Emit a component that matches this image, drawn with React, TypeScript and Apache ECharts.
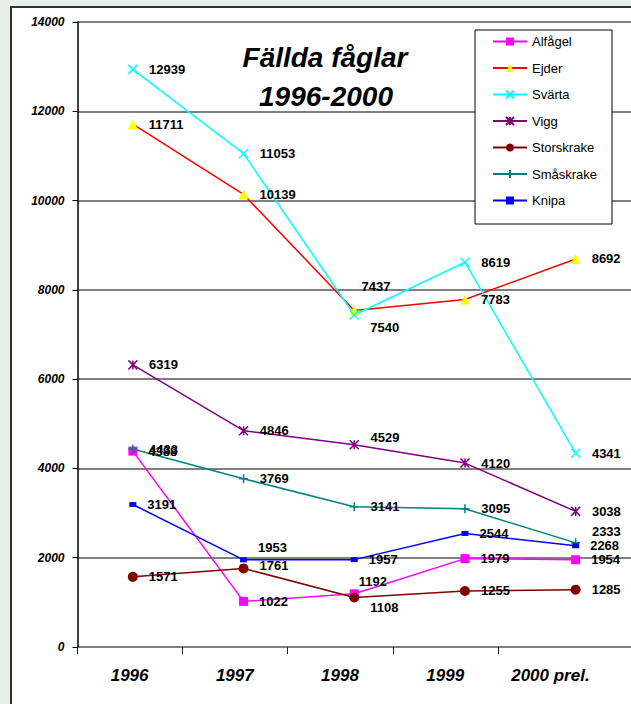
import React, { useEffect, useRef } from "react";
import * as echarts from "echarts";

const years = ["1996", "1997", "1998", "1999", "2000 prel."];
const alfagel = [4388, 1022, 1192, 1979, 1954];
const ejder = [11711, 10139, 7540, 7783, 8692];
const svarta = [12939, 11053, 7437, 8619, 4341];
const vigg = [6319, 4846, 4529, 4120, 3038];
const storskrake = [1571, 1761, 1108, 1255, 1285];
const smaskrake = [4433, 3769, 3141, 3095, 2333];
const knipa = [3191, 1953, 1957, 2544, 2268];

const yMin = 0;
const yMax = 14000;
const yStep = 2000;

const FONT = 'Arial, "Liberation Sans", sans-serif';

// manual label nudges (dx, dy) per series and point index
const labelOffsets: Record<string, Record<number, [number, number]>> = {
  "Alfågel": { 2: [-11, -12] },
  "Ejder": { 2: [0, 17] },
  "Svärta": { 2: [-9, -28] },
  "Vigg": { 2: [0, -7] },
  "Storskrake": { 1: [0, -3], 2: [0, 10] },
  "Småskrake": { 4: [0, -11] },
  "Knipa": { 1: [0, -12] },
};

const X_PATH = "path://M0,0L10,10M10,0L0,10";
const STAR_PATH = "path://M0,0L10,10M10,0L0,10M5,0L5,10";
const PLUS_PATH = "path://M5,0L5,10M0,5L10,5";

type Def = {
  name: string;
  values: number[];
  line: string;
  fill: string;
  symbol: string;
  size: number | number[];
  stroke?: boolean;
};

const defs: Def[] = [
  { name: "Alfågel", values: alfagel, line: "#ff00ff", fill: "#ff00ff", symbol: "rect", size: 9 },
  { name: "Ejder", values: ejder, line: "#ff0000", fill: "#ffff00", symbol: "triangle", size: 10 },
  { name: "Svärta", values: svarta, line: "#00ffff", fill: "#00ffff", symbol: X_PATH, size: 9, stroke: true },
  { name: "Vigg", values: vigg, line: "#800080", fill: "#800080", symbol: STAR_PATH, size: 9, stroke: true },
  { name: "Storskrake", values: storskrake, line: "#800000", fill: "#800000", symbol: "circle", size: 10 },
  { name: "Småskrake", values: smaskrake, line: "#008080", fill: "#008080", symbol: PLUS_PATH, size: 9, stroke: true },
  { name: "Knipa", values: knipa, line: "#0000ff", fill: "#0000ff", symbol: "rect", size: [7, 5] },
];

export default function App() {
  const ref = useRef<HTMLDivElement>(null);

  useEffect(() => {
    if (!ref.current) return;
    const chart = echarts.init(ref.current, undefined, { renderer: "svg" });

    const series = defs.map((d) => {
      const offs = labelOffsets[d.name] || {};
      return {
        name: d.name,
        type: "line",
        xAxisIndex: 0,
        yAxisIndex: 0,
        symbol: d.symbol,
        symbolSize: d.size,
        showAllSymbol: true,
        lineStyle: { color: d.line, width: 1.5 },
        itemStyle: d.stroke
          ? { color: d.fill, borderColor: d.fill, borderWidth: 1.5 }
          : { color: d.fill, borderWidth: 0 },
        label: {
          show: true,
          position: "right",
          distance: 11,
          color: "#000",
          fontWeight: "bold",
          fontSize: 13,
          fontFamily: FONT,
        },
        emphasis: { disabled: true },
        data: d.values.map((v, i) =>
          offs[i] ? { value: v, label: { offset: offs[i] } } : v
        ),
        z: 2,
      };
    });

    const blank = ["", "", "", "", ""];

    chart.setOption({
      animation: false,
      backgroundColor: "transparent",
      textStyle: { fontFamily: FONT },
      grid: [
        { left: 77.5, top: 22, width: 555, height: 625, containLabel: false },
        { left: 77, top: 22, width: 526, height: 625, containLabel: false },
        { left: 77, top: 22, width: 421, height: 625, containLabel: false },
      ],
      xAxis: [
        {
          type: "category",
          gridIndex: 0,
          data: years,
          boundaryGap: true,
          show: false,
        },
        {
          type: "category",
          gridIndex: 1,
          data: years,
          boundaryGap: true,
          axisLine: { show: false },
          axisTick: { show: false },
          axisLabel: {
            interval: 0,
            color: "#000",
            fontStyle: "italic",
            fontWeight: "bold",
            fontSize: 17,
            fontFamily: FONT,
            margin: 20,
          },
          splitLine: { show: false },
        },
        {
          type: "category",
          gridIndex: 2,
          data: blank,
          boundaryGap: false,
          axisLine: { show: false },
          axisTick: {
            show: true,
            length: 7,
            interval: 0,
            lineStyle: { color: "#222", width: 1 },
          },
          axisLabel: { show: false },
          splitLine: { show: false },
        },
      ],
      yAxis: [
        {
          type: "value",
          gridIndex: 0,
          min: yMin,
          max: yMax,
          interval: yStep,
          axisLine: { show: true, lineStyle: { color: "#000", width: 1.5 } },
          axisTick: { show: true, length: 5, lineStyle: { color: "#000" } },
          axisLabel: {
            color: "#000",
            fontStyle: "italic",
            fontWeight: "bold",
            fontSize: 12,
            fontFamily: FONT,
            margin: 13,
            formatter: (v: number) => String(v),
          },
          splitLine: { show: true, lineStyle: { color: "#555", width: 1.5 } },
        },
        {
          type: "value",
          gridIndex: 1,
          min: yMin,
          max: yMax,
          show: false,
          splitLine: { show: false },
        },
        {
          type: "value",
          gridIndex: 2,
          min: yMin,
          max: yMax,
          show: false,
          splitLine: { show: false },
        },
      ],
      legend: {
        orient: "vertical",
        left: 492,
        top: 35,
        padding: 0,
        itemWidth: 34,
        itemHeight: 10,
        itemGap: 13.5,
        textStyle: { color: "#000", fontSize: 13, fontFamily: FONT },
        data: defs.map((d) => d.name),
        z: 5,
      },
      graphic: [
        {
          type: "rect",
          z: 3,
          shape: { x: 475, y: 30, width: 137, height: 194 },
          style: { fill: "#fff", stroke: "#000", lineWidth: 1 },
        },
        {
          type: "text",
          z: 3,
          x: 325,
          y: 57,
          style: {
            text: "Fällda fåglar",
            fill: "#000",
            font: `italic bold 28px ${FONT}`,
            textAlign: "center",
            textVerticalAlign: "middle",
          },
        },
        {
          type: "text",
          z: 3,
          x: 326,
          y: 96,
          style: {
            text: "1996-2000",
            fill: "#000",
            font: `italic bold 28px ${FONT}`,
            textAlign: "center",
            textVerticalAlign: "middle",
          },
        },
      ],
      series,
    });

    return () => chart.dispose();
  }, []);

  return (
    <div
      style={{
        position: "fixed",
        left: 0,
        top: 0,
        width: 631,
        height: 704,
        background: "#e6eeea",
        overflow: "hidden",
      }}
    >
      <div
        style={{
          position: "absolute",
          left: 10,
          top: 6,
          width: 700,
          height: 760,
          background: "#fff",
          borderLeft: "2px solid #333",
          borderTop: "2px solid #333",
        }}
      />
      <div
        ref={ref}
        style={{ position: "absolute", left: 0, top: 0, width: 631, height: 704 }}
      />
    </div>
  );
}
